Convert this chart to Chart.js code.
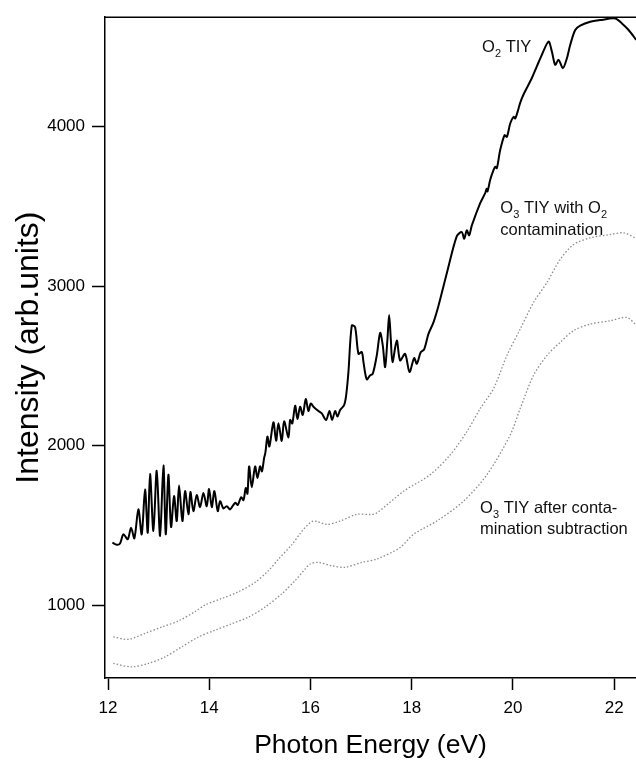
<!DOCTYPE html>
<html>
<head>
<meta charset="utf-8">
<script src="https://cdn.jsdelivr.net/npm/chart.js@4.4.1/dist/chart.umd.min.js"></script>
<style>
  html, body { margin: 0; padding: 0; background: #fff; }
  canvas { display: block; }
</style>
</head>
<body>
<canvas id="tiyChart" width="636" height="760"></canvas>
<script>
// O2 TIY (solid line)
const o2Energy = [
  12.086, 12.171, 12.237, 12.303, 12.389, 12.455, 12.520, 12.599, 12.665, 12.731,
  12.784, 12.830, 12.896, 12.962, 13.028, 13.094, 13.140, 13.192, 13.245, 13.304,
  13.357, 13.403, 13.469, 13.522, 13.588, 13.627, 13.686, 13.752, 13.818, 13.884,
  13.950, 13.996, 14.049, 14.101, 14.167, 14.213, 14.279, 14.345, 14.411, 14.510,
  14.563, 14.628, 14.675, 14.721, 14.754, 14.787, 14.839, 14.905, 14.951, 15.004,
  15.040, 15.083, 15.110, 15.149, 15.188, 15.267, 15.320, 15.366, 15.432, 15.478,
  15.564, 15.597, 15.640, 15.696, 15.742, 15.794, 15.847, 15.906, 15.959, 16.005,
  16.058, 16.156, 16.222, 16.308, 16.374, 16.427, 16.486, 16.532, 16.585, 16.664,
  16.704, 16.749, 16.815, 16.881, 16.947, 17.013, 17.046, 17.111, 17.177, 17.230,
  17.309, 17.375, 17.428, 17.474, 17.520, 17.553, 17.586, 17.619, 17.704, 17.770,
  17.869, 17.955, 18.047, 18.100, 18.179, 18.245, 18.330, 18.429, 18.528, 18.700,
  18.890, 18.989, 19.035, 19.088, 19.134, 19.187, 19.352, 19.451, 19.480, 19.497,
  19.550, 19.616, 19.650, 19.681, 19.747, 19.833, 19.879, 19.945, 20.011, 20.044,
  20.109, 20.142, 20.208, 20.373, 20.471, 20.570, 20.702, 20.768, 20.834, 20.900,
  20.986, 21.065, 21.130, 21.229, 21.328, 21.526, 21.723, 22.020, 22.152, 22.284,
  22.435
];
const o2Intensity = [
  1394, 1380, 1388, 1446, 1415, 1487, 1421, 1602, 1446, 1726,
  1456, 1823, 1467, 1844, 1436, 1877, 1446, 1819, 1492, 1685,
  1529, 1751, 1529, 1716, 1571, 1711, 1591, 1691, 1616, 1705,
  1622, 1730, 1616, 1716, 1591, 1653, 1608, 1622, 1602, 1643,
  1630, 1678, 1660, 1736, 1700, 1871, 1740, 1871, 1799, 1871,
  1840, 1923, 1960, 2058, 1996, 2147, 2031, 2141, 2031, 2153,
  2052, 2162, 2140, 2251, 2168, 2245, 2193, 2292, 2218, 2265,
  2245, 2218, 2203, 2162, 2218, 2162, 2218, 2183, 2224, 2255,
  2316, 2462, 2753, 2742, 2576, 2587, 2524, 2416, 2441, 2451,
  2566, 2707, 2628, 2493, 2669, 2819, 2669, 2524, 2659, 2535,
  2576, 2462, 2549, 2514, 2587, 2604, 2701, 2773, 2877, 3090,
  3313, 3338, 3297, 3349, 3318, 3380, 3520, 3582, 3610, 3593,
  3666, 3728, 3748, 3738, 3852, 3945, 3935, 4018, 4060, 4050,
  4111, 4148, 4200, 4303, 4376, 4448, 4531, 4469, 4386, 4417,
  4365, 4427, 4510, 4604, 4631, 4656, 4666, 4676, 4645, 4604,
  4542
];

// O3 TIY with O2 contamination (upper dotted)
const o3RawEnergy = [
  12.105, 12.402, 12.731, 13.061, 13.390, 13.719, 13.917, 14.247, 14.576, 14.905,
  15.168, 15.366, 15.629, 15.794, 15.900, 16.058, 16.321, 16.585, 16.915, 17.178,
  17.310, 17.836, 18.363, 18.758, 19.088, 19.352, 19.615, 19.879, 20.142, 20.405,
  20.669, 20.932, 21.196, 21.525, 21.920, 22.183, 22.414
];
const o3RawIntensity = [
  803, 788, 826, 865, 903, 962, 1003, 1044, 1086, 1145,
  1218, 1290, 1380, 1450, 1490, 1529, 1508, 1529, 1571, 1570,
  1580, 1715, 1819, 1943, 2088, 2233, 2358, 2565, 2731, 2897,
  3022, 3167, 3260, 3302, 3323, 3334, 3302
];

// O3 TIY after contamination subtraction (lower dotted)
const o3SubEnergy = [
  12.105, 12.468, 12.797, 13.127, 13.456, 13.785, 14.115, 14.444, 14.773, 15.102,
  15.432, 15.696, 15.893, 15.992, 16.156, 16.420, 16.684, 17.013, 17.310, 17.770,
  18.034, 18.495, 19.022, 19.484, 19.945, 20.142, 20.405, 20.669, 20.932, 21.196,
  21.525, 21.920, 22.249, 22.414
];
const o3SubIntensity = [
  637, 616, 637, 678, 741, 803, 845, 886, 927, 990,
  1073, 1156, 1228, 1260, 1270, 1249, 1239, 1270, 1291, 1363,
  1446, 1529, 1653, 1819, 2068, 2233, 2441, 2565, 2648, 2721,
  2762, 2783, 2804, 2762
];

const xTickValues = [12, 14, 16, 18, 20, 22];
const yTickValues = [1000, 2000, 3000, 4000];

// curve captions: [text, subscript] pieces, anchored in data units
const captions = [
  { at: [19.39, 4466], parts: [["O", ""], ["", "2"], [" TIY", ""]] },
  { at: [19.75, 3458], parts: [["O", ""], ["", "3"], [" TIY with O", ""], ["", "2"]] },
  { at: [19.75, 3320], parts: [["contamination", ""]] },
  { at: [19.35, 1579], parts: [["O", ""], ["", "3"], [" TIY after conta-", ""]] },
  { at: [19.35, 1450], parts: [["mination subtraction", ""]] }
];

const FONT = "'Liberation Sans', Arial, Helvetica, sans-serif";

function toPoints(xs, ys) {
  return xs.map((x, i) => ({ x: x, y: ys[i] }));
}

// draws the top frame line and the captions with subscripts
const captionPlugin = {
  id: "captions",
  afterDraw(chart) {
    const { ctx, chartArea } = chart;
    const xs = chart.scales.x;
    const ys = chart.scales.y;
    ctx.save();
    ctx.strokeStyle = "#000";
    ctx.lineWidth = 1.5;
    ctx.beginPath();
    ctx.moveTo(chartArea.left, chartArea.top);
    ctx.lineTo(chartArea.right, chartArea.top);
    ctx.stroke();

    ctx.fillStyle = "#111";
    ctx.textBaseline = "alphabetic";
    ctx.textAlign = "left";
    captions.forEach((c) => {
      let px = xs.getPixelForValue(c.at[0]);
      const py = ys.getPixelForValue(c.at[1]);
      c.parts.forEach(([txt, sub]) => {
        if (txt) {
          ctx.font = "16.5px " + FONT;
          ctx.fillText(txt, px, py);
          px += ctx.measureText(txt).width;
        }
        if (sub) {
          ctx.font = "11px " + FONT;
          ctx.fillText(sub, px, py + 5);
          px += ctx.measureText(sub).width;
        }
      });
    });
    ctx.restore();
  }
};

const ctx = document.getElementById("tiyChart").getContext("2d");

new Chart(ctx, {
  type: "line",
  data: {
    datasets: [
      {
        label: "O3 TIY with O2 contamination",
        data: toPoints(o3RawEnergy, o3RawIntensity),
        borderColor: "#8c8c8c",
        borderWidth: 1.3,
        borderDash: [1.5, 2],
        pointRadius: 0,
        tension: 0.3
      },
      {
        label: "O3 TIY after contamination subtraction",
        data: toPoints(o3SubEnergy, o3SubIntensity),
        borderColor: "#8c8c8c",
        borderWidth: 1.3,
        borderDash: [1.5, 2],
        pointRadius: 0,
        tension: 0.3
      },
      {
        label: "O2 TIY",
        data: toPoints(o2Energy, o2Intensity),
        borderColor: "#000",
        borderWidth: 2,
        pointRadius: 0,
        tension: 0.3
      }
    ]
  },
  options: {
    responsive: false,
    animation: false,
    devicePixelRatio: 1,
    layout: { padding: { left: 0, right: 0, top: 13, bottom: 0 } },
    plugins: {
      legend: { display: false },
      tooltip: { enabled: false }
    },
    scales: {
      x: {
        type: "linear",
        min: 11.94,
        max: 22.43,
        afterBuildTicks: (s) => { s.ticks = xTickValues.map((v) => ({ value: v })); },
        afterFit: (s) => { s.height = 82; },
        border: { color: "#000", width: 1.5 },
        grid: { drawOnChartArea: false, tickLength: 12, tickWidth: 1.5, tickColor: "#000" },
        ticks: { color: "#000", font: { family: FONT, size: 17 }, padding: 8, maxRotation: 0 },
        title: {
          display: true,
          text: "Photon Energy (eV)",
          color: "#000",
          font: { family: FONT, size: 26.5, lineHeight: 1 },
          padding: { top: 0, bottom: 1 }
        }
      },
      y: {
        type: "linear",
        min: 546,
        max: 4684,
        afterBuildTicks: (s) => { s.ticks = yTickValues.map((v) => ({ value: v })); },
        afterFit: (s) => { s.width = 105; },
        border: { color: "#000", width: 1.5 },
        grid: { drawOnChartArea: false, tickLength: 13, tickWidth: 1.5, tickColor: "#000" },
        ticks: {
          color: "#000",
          font: { family: FONT, size: 17 },
          padding: 7,
          callback: (v) => String(v)
        },
        title: {
          display: true,
          text: "Intensity (arb.units)",
          color: "#000",
          font: { family: FONT, size: 32, lineHeight: 1 },
          padding: { top: 13, bottom: 0 }
        }
      }
    }
  },
  plugins: [captionPlugin]
});
</script>
</body>
</html>
